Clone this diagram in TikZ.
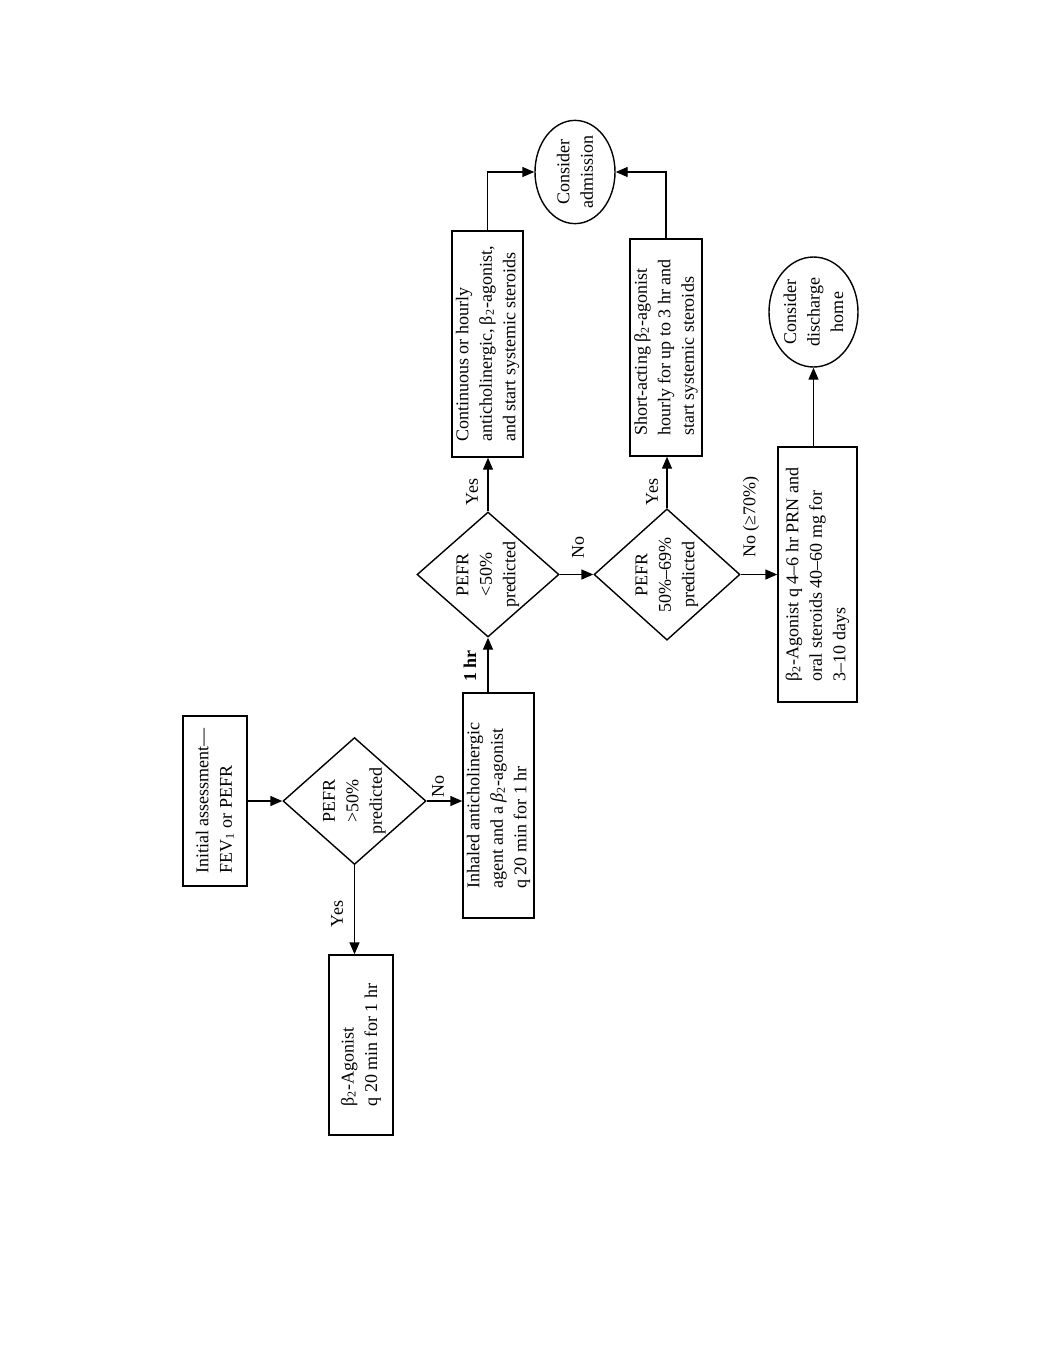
\documentclass[tikz,border=0pt]{standalone}
\usepackage{fontspec}
\setmainfont{Liberation Serif}
\usetikzlibrary{shapes.geometric,arrows.meta}
\begin{document}
\begin{tikzpicture}[x=0.5pt,y=-0.5pt,
  every node/.style={font=\fontsize{9}{11.75}\selectfont, rotate=90},
  box/.style={draw, line width=0.7pt, inner sep=0pt, align=left},
  dia/.style={draw, diamond, line width=0.7pt, inner sep=0pt, align=center, aspect=0.9},
  ell/.style={draw, ellipse, line width=0.7pt, inner sep=0pt, align=center},
  arr/.style={line width=0.7pt, -{Triangle[length=6pt,width=5pt]}},
  lab/.style={inner sep=0pt},
  boldlab/.style={inner sep=0pt, font=\fontsize{9}{11.75}\selectfont\bfseries}]
\useasboundingbox (0,0) rectangle (1043,1350);
% nodes
\node[box, minimum width=85pt, minimum height=32pt] (init) at (215,801) {Initial assessment—\\FEV\textsubscript{1} or PEFR};
\node[dia, minimum width=63.5pt, minimum height=71.5pt] (d1) at (354.5,801) {PEFR\\>50\%\\predicted};
\node[box, minimum width=90pt, minimum height=32pt] (b2a1) at (361,1045) {β\textsubscript{2}-Agonist\\q 20 min for 1 hr};
\node[box, minimum width=112.5pt, minimum height=35.5pt] (inh) at (498.5,805.5) {Inhaled anticholinergic\\agent and a \textit{β}\textsubscript{2}-agonist\\q 20 min for 1 hr};
\node[dia, minimum width=62.5pt, minimum height=71pt] (d2) at (488,574.5) {PEFR\\<50\%\\predicted};
\node[box, minimum width=113pt, minimum height=35.5pt] (cont) at (487.5,344) {Continuous or hourly\\anticholinergic, β\textsubscript{2}-agonist,\\and start systemic steroids};
\node[ell, minimum width=50pt, minimum height=40pt] (adm) at (575,172) {Consider\\admission};
\node[dia, minimum width=62.5pt, minimum height=72pt] (d3) at (667,574.5) {PEFR\\50\%--69\%\\predicted};
\node[box, minimum width=108.5pt, minimum height=36pt] (short) at (666,347.5) {Short-acting β\textsubscript{2}-agonist\\hourly for up to 3 hr and\\start systemic steroids};
\node[box, minimum width=127.5pt, minimum height=39.5pt] (b2a2) at (817.5,574.5) {β\textsubscript{2}-Agonist q 4--6 hr PRN and\\oral steroids 40--60 mg for\\3--10 days};
\node[ell, minimum width=55pt, minimum height=44.5pt] (dis) at (813.5,312) {Consider\\discharge\\home};
% connectors
\draw[arr] (init.south) -- (d1.north);
\draw[arr] (d1.west) -- (d1.west |- b2a1.east);
\draw[arr] (d1.south) -- (d1.south -| inh.north);
\draw[arr] (inh.east -| d2.west) -- (d2.west);
\draw[arr] (d2.east) -- (d2.east |- cont.west);
\draw[arr] (cont.east) |- (adm.north);
\draw[arr] (d2.south) -- (d3.north);
\draw[arr] (d3.east) -- (d3.east |- short.west);
\draw[arr] (short.east) |- (adm.south);
\draw[arr] (d3.south) -- (d3.south -| b2a2.north);
\draw[arr] (b2a2.east -| dis.west) -- (dis.west);
% labels
\node[lab] (yes1) at (337,914) {Yes};
\node[lab] (no1) at (438,786) {No};
\node[boldlab] (hr) at (470,666) {1 hr};
\node[lab] (yes2) at (472,492) {Yes};
\node[lab] (no2) at (578,547) {No};
\node[lab] (yes3) at (652,492) {Yes};
\node[lab] (no3) at (751,517) {No (≥70\%)};
\end{tikzpicture}
\end{document}
